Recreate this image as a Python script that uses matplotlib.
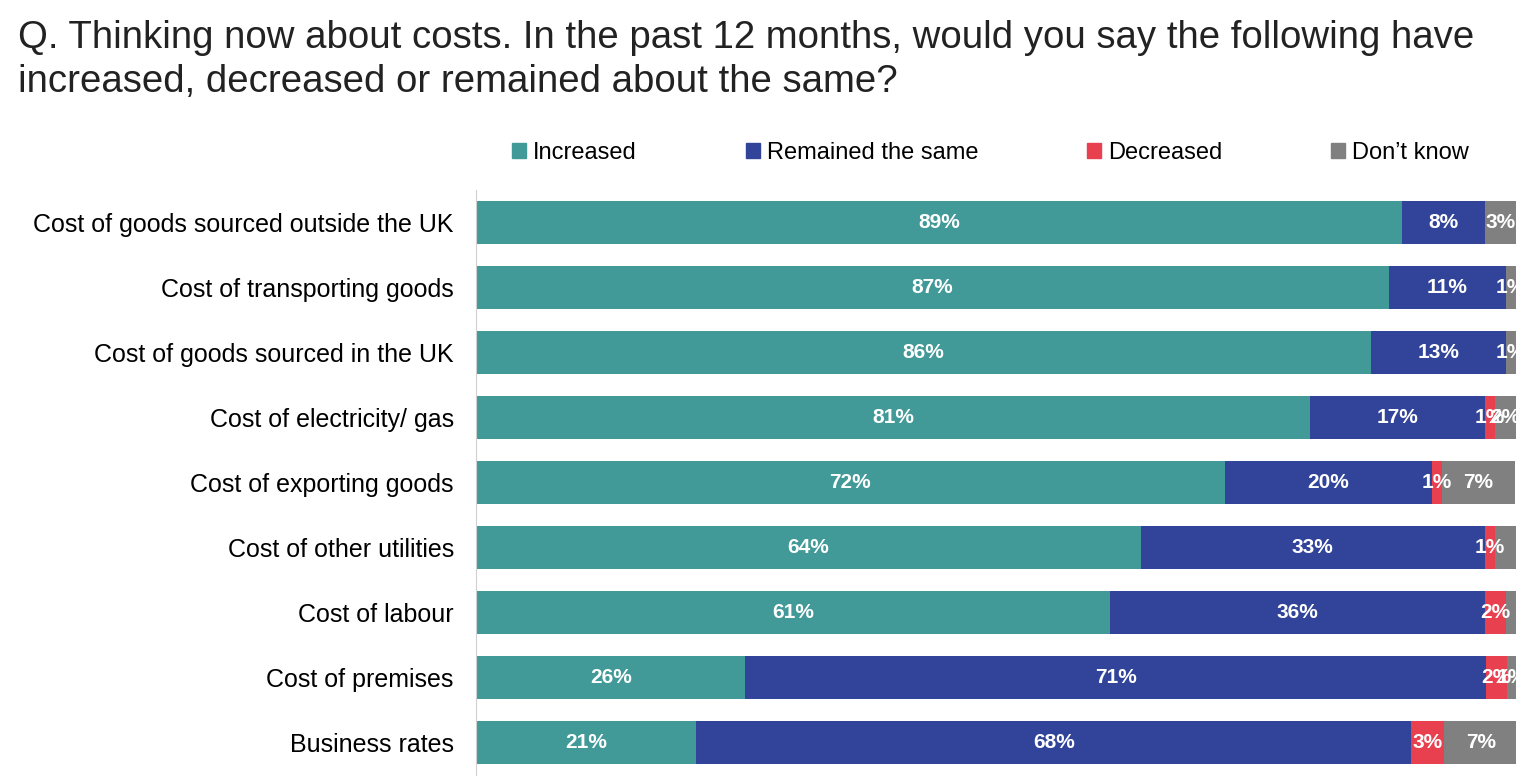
import matplotlib
matplotlib.use("Agg")
import matplotlib.pyplot as plt
from matplotlib.patches import Patch

plt.rcParams['font.family'] = ['Liberation Sans', 'DejaVu Sans']

categories = ["Cost of goods sourced outside the UK", "Cost of transporting goods",
              "Cost of goods sourced in the UK", "Cost of electricity/ gas",
              "Cost of exporting goods", "Cost of other utilities", "Cost of labour",
              "Cost of premises", "Business rates"]
series = ["Increased", "Remained the same", "Decreased", "Don\u2019t know"]
increased = [89, 87.8, 86.1, 80.2, 72, 63.9, 61, 25.9, 21.2]
remained = [8, 11.2, 12.9, 16.8, 19.9, 33.1, 36, 71.2, 68.7]
decreased = [0, 0, 0, 1, 1, 1, 2, 2, 3.2]
dontknow = [3, 1, 1, 2, 7, 2, 1, 1, 7]
lab_inc = ["89%", "87%", "86%", "81%", "72%", "64%", "61%", "26%", "21%"]
lab_rem = ["8%", "11%", "13%", "17%", "20%", "33%", "36%", "71%", "68%"]
lab_dec = ["", "", "", "1%", "1%", "1%", "2%", "2%", "3%"]
lab_dk = ["3%", "1%", "1%", "2%", "7%", "", "", "1%", "7%"]
colors = ["#419a98", "#31449a", "#e8404f", "#808080"]

fig = plt.figure(figsize=(15.38, 7.84), dpi=100)
ax = fig.add_axes([476/1538, 1-775/784, 1040/1538, 585/784])
y = list(range(len(categories)))
left = [0]*len(categories)
for vals, labs, c in zip([increased, remained, decreased, dontknow],
                         [lab_inc, lab_rem, lab_dec, lab_dk], colors):
    ax.barh(y, vals, left=left, height=0.66, color=c)
    for yi, v, l, lab in zip(y, vals, left, labs):
        if lab:
            ax.text(l + v/2, yi, lab, ha='center', va='center', color='white',
                    fontsize=15, fontweight='bold')
    left = [a+b for a, b in zip(left, vals)]

ax.set_xlim(0, 100)
ax.set_ylim(8.5, -0.5)
ax.set_yticks(y)
ax.set_yticklabels(categories, fontsize=18)
ax.tick_params(axis='y', length=0, pad=16)
ax.set_xticks([])
for s in ['top', 'right', 'bottom']:
    ax.spines[s].set_visible(False)
ax.spines['left'].set_color('#d0d0d0')

fig.text(18/1538, 1-38/784, "Q. Thinking now about costs. In the past 12 months, would you say the following have",
         fontsize=27.6, va='center', ha='left', color='#222222')
fig.text(18/1538, 1-82/784, "increased, decreased or remained about the same?",
         fontsize=27.6, va='center', ha='left', color='#222222')

handles = [Patch(color=c) for c in colors]
fig.legend(handles, series, loc='center left', bbox_to_anchor=(512/1538, 1-153/784),
           ncol=4, frameon=False, fontsize=17, handlelength=0.6, handleheight=0.6,
           handletextpad=0.3, columnspacing=4.6, borderaxespad=0, borderpad=0)

fig.savefig("out.png", dpi=100)
